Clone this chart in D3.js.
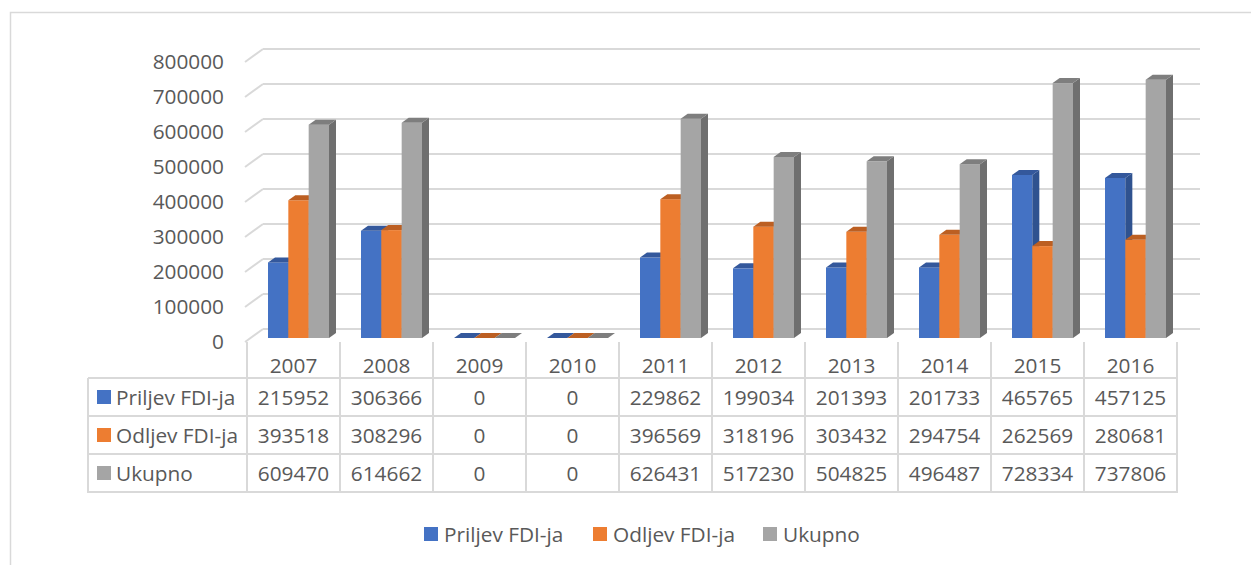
<!DOCTYPE html>
<html>
<head>
<meta charset="utf-8">
<script src="https://cdn.jsdelivr.net/npm/d3@7"></script>
<style>
  body { margin: 0; background: #fff; }
  text { font-family: "Open Sans", sans-serif; fill: #595959; }
</style>
</head>
<body>
<div id="chart"></div>
<script>
// data
const years = ["2007", "2008", "2009", "2010", "2011", "2012", "2013", "2014", "2015", "2016"];
const seriesNames = ["Priljev FDI-ja", "Odljev FDI-ja", "Ukupno"];
const priljev = [215952, 306366, 0, 0, 229862, 199034, 201393, 201733, 465765, 457125];
const odljev = [393518, 308296, 0, 0, 396569, 318196, 303432, 294754, 262569, 280681];
const ukupno = [609470, 614662, 0, 0, 626431, 517230, 504825, 496487, 728334, 737806];
const yTicks = [0, 100000, 200000, 300000, 400000, 500000, 600000, 700000, 800000];

const values = [priljev, odljev, ukupno];
const colors = ["#4472C4", "#ED7D31", "#A5A5A5"];
const sideColors = ["#2F528F", "#AE5A21", "#6F6F6F"];
const topColors = ["#34589C", "#BC5F22", "#7E7E7E"];

const W = 1251, H = 565;
const fs = '20.8px';
const depthX = 7, depthY = -5;      // bar depth
const wallX = 18, wallY = -13;      // back wall offset from front

const svg = d3.select('#chart').append('svg')
    .attr('width', W)
    .attr('height', H);

// chart frame
svg.append('rect')
    .attr('x', 10.5).attr('y', 12.5)
    .attr('width', 1260).attr('height', 600)
    .attr('fill', 'none')
    .attr('stroke', '#d9d9d9')
    .attr('stroke-width', 1.5);

const x0 = d3.scaleBand().domain(years).range([247, 1177]);
const x1 = d3.scaleBand().domain(seriesNames).range([0, 61]);
const groupOffset = 21;

const y = d3.scaleLinear().domain([0, 800000]).range([338, 58]);
const base = y(0);

// grid: back wall lines + left wall diagonals
const grid = svg.append('g');
yTicks.forEach(v => {
  const fy = y(v) + 4;
  grid.append('line')
      .attr('x1', 245 + wallX).attr('y1', fy + wallY)
      .attr('x2', 1200).attr('y2', fy + wallY)
      .attr('stroke', '#d9d9d9').attr('stroke-width', 2);
  grid.append('line')
      .attr('x1', 245).attr('y1', fy)
      .attr('x2', 245 + wallX).attr('y2', fy + wallY)
      .attr('stroke', '#d9d9d9').attr('stroke-width', 2);
});

// y labels
svg.append('g')
    .attr('transform', 'translate(224, 4)')
    .call(d3.axisLeft(y).tickValues(yTicks).tickSize(0).tickPadding(0).tickFormat(d3.format('d')))
    .call(g => g.select('.domain').remove())
    .call(g => g.selectAll('text').style('font-size', fs).attr('fill', '#595959'));

// bars
const bars = svg.append('g');
years.forEach((yr, i) => {
  seriesNames.forEach((s, k) => {
    const v = values[k][i];
    const bx = x0(yr) + groupOffset + x1(s);
    const bw = x1.bandwidth();
    const ty = y(v);
    bars.append('rect')
        .attr('x', bx).attr('y', ty)
        .attr('width', bw).attr('height', base - ty)
        .attr('fill', colors[k]);
    bars.append('polygon')
        .attr('points', [[bx + bw, ty], [bx + bw + depthX, ty + depthY], [bx + bw + depthX, base + depthY], [bx + bw, base]].join(' '))
        .attr('fill', sideColors[k]);
    bars.append('polygon')
        .attr('points', [[bx, ty], [bx + depthX, ty + depthY], [bx + bw + depthX, ty + depthY], [bx + bw, ty]].join(' '))
        .attr('fill', topColors[k]);
  });
});

// data table
const rowY = d3.scaleBand().domain(seriesNames).range([378, 492]);
const table = svg.append('g');
const lineCol = '#d9d9d9';

x0.domain().concat([null]).forEach(yr => {
  const xx = yr ? x0(yr) : x0.range()[1];
  table.append('line')
      .attr('x1', xx).attr('y1', 342).attr('x2', xx).attr('y2', 493)
      .attr('stroke', lineCol).attr('stroke-width', 2);
});
table.append('line')
    .attr('x1', 88).attr('y1', 378).attr('x2', 88).attr('y2', 493)
    .attr('stroke', lineCol).attr('stroke-width', 2);
seriesNames.forEach(s => {
  table.append('line')
      .attr('x1', 88).attr('y1', rowY(s)).attr('x2', 1178).attr('y2', rowY(s))
      .attr('stroke', lineCol).attr('stroke-width', 2);
});
table.append('line')
    .attr('x1', 88).attr('y1', 492).attr('x2', 1178).attr('y2', 492)
    .attr('stroke', lineCol).attr('stroke-width', 2);

// header
years.forEach(yr => {
  table.append('text')
      .attr('x', x0(yr) + x0.bandwidth() / 2).attr('y', 365)
      .attr('text-anchor', 'middle').attr('dominant-baseline', 'central')
      .style('font-size', fs)
      .text(yr);
});

// rows
seriesNames.forEach((s, k) => {
  const cy = rowY(s) + rowY.bandwidth() / 2;
  table.append('rect')
      .attr('x', 97).attr('y', cy - 7).attr('width', 14).attr('height', 14)
      .attr('fill', colors[k]);
  table.append('text')
      .attr('x', 116).attr('y', cy)
      .attr('dominant-baseline', 'central')
      .style('font-size', fs)
      .text(s);
  years.forEach((yr, i) => {
    table.append('text')
        .attr('x', x0(yr) + x0.bandwidth() / 2).attr('y', cy)
        .attr('text-anchor', 'middle').attr('dominant-baseline', 'central')
        .style('font-size', fs)
        .text(values[k][i]);
  });
});

// legend
const legendX = [424, 593, 763];
const legend = svg.append('g');
seriesNames.forEach((s, k) => {
  legend.append('rect')
      .attr('x', legendX[k]).attr('y', 527).attr('width', 14).attr('height', 14)
      .attr('fill', colors[k]);
  legend.append('text')
      .attr('x', legendX[k] + 20).attr('y', 534)
      .attr('dominant-baseline', 'central')
      .style('font-size', fs)
      .text(s);
});
</script>
</body>
</html>
